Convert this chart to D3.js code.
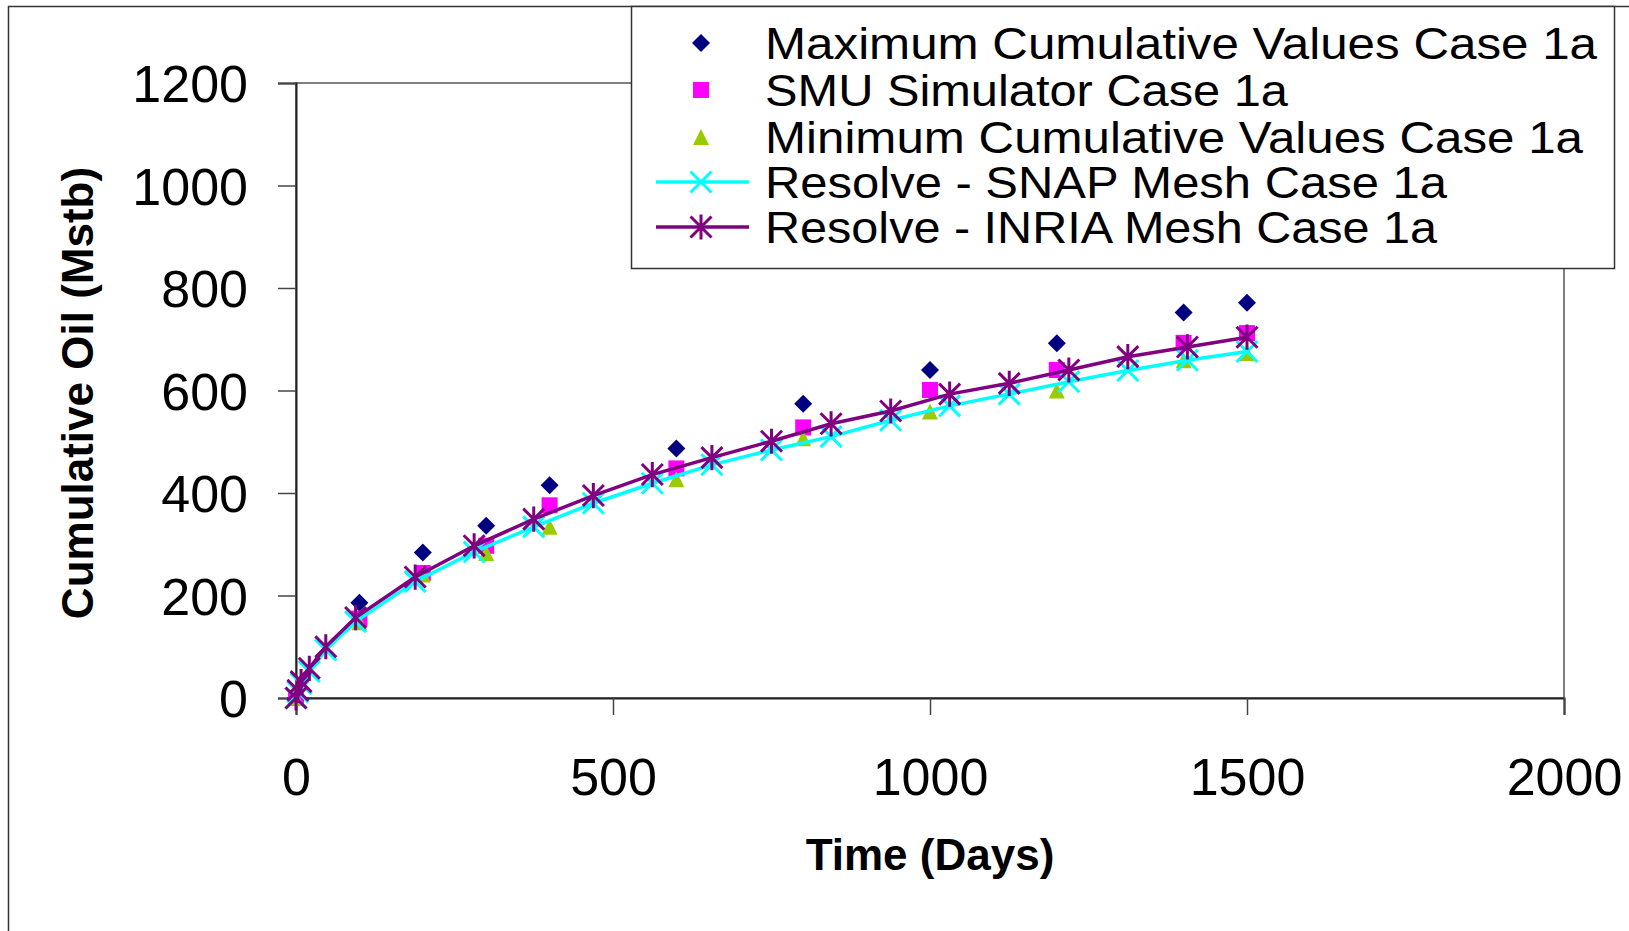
<!DOCTYPE html>
<html>
<head>
<meta charset="utf-8">
<script src="https://cdn.jsdelivr.net/npm/d3@7"></script>
<style>
  body { margin: 0; background: #fff; }
  text { font-family: "Liberation Sans", Arial, sans-serif; }
</style>
</head>
<body>
<div id="chart"></div>
<script>
// cumulative oil vs time

var w = 1629;
var h = 931;

var sampleDays = [0, 100, 200, 300, 400, 600, 800, 1000, 1200, 1400, 1500];
var maxValues = [0, 186, 284, 336, 415, 487, 574, 640, 692, 752, 771];
var smuValues = [0, 155, 244, 297, 376, 448, 528, 601, 640, 693, 712];
var minValues = [0, 148, 241, 283, 334, 427, 507, 559, 600, 659, 673];

var resolveDays = [0, 3, 8, 21, 47, 94, 188, 281, 375, 469, 562, 656, 750, 844, 938, 1031, 1125, 1219, 1312, 1406, 1500];
var snapValues = [0, 12, 28, 52, 94, 149, 227, 285, 334, 380, 419, 455, 484, 510, 542, 570, 593, 617, 639, 659, 676];
var inriaValues = [0, 15, 32, 58, 100, 157, 236, 297, 349, 395, 436, 469, 501, 535, 560, 593, 614, 640, 666, 685, 704];

var xTicks = [0, 500, 1000, 1500, 2000];
var yTicks = [0, 200, 400, 600, 800, 1000, 1200];

var seriesNames = [
  "Maximum Cumulative Values Case 1a",
  "SMU Simulator Case 1a",
  "Minimum Cumulative Values Case 1a",
  "Resolve - SNAP Mesh Case 1a",
  "Resolve - INRIA Mesh Case 1a"
];

var plot = {left: 296, right: 1564, top: 83, bottom: 698};

var svg = d3.select("div#chart").append("svg")
  .attr("width", w)
  .attr("height", h);

// outer chart border (runs off the right and bottom)
svg.append("rect")
  .attr("x", 8.5).attr("y", 6.5)
  .attr("width", 1700).attr("height", 1000)
  .attr("fill", "none")
  .attr("stroke", "#333")
  .attr("stroke-width", 1.5);

var x = d3.scaleLinear().domain([0, 2000]).range([plot.left, plot.right]);
var y = d3.scaleLinear().domain([0, 1200]).range([plot.bottom, plot.top]);

// plot area frame
svg.append("rect")
  .attr("x", plot.left).attr("y", plot.top)
  .attr("width", plot.right - plot.left)
  .attr("height", plot.bottom - plot.top)
  .attr("fill", "none")
  .attr("stroke", "#808080")
  .attr("stroke-width", 2);

var yAxis = svg.append("g")
  .attr("transform", "translate(" + plot.left + ",0)")
  .call(d3.axisLeft(y).tickValues(yTicks).tickSize(18).tickPadding(30).tickFormat(d3.format("d")));

var xAxis = svg.append("g")
  .attr("transform", "translate(0," + plot.bottom + ")")
  .call(d3.axisBottom(x).tickValues(xTicks).tickSize(17).tickPadding(43).tickFormat(d3.format("d")));

[yAxis, xAxis].forEach(function(ax) {
  ax.select(".domain").attr("stroke", "#222").attr("stroke-width", 2);
  ax.selectAll(".tick line").attr("stroke", "#444").attr("stroke-width", 1.5);
  ax.selectAll(".tick text")
    .attr("fill", "#000")
    .style("font-size", "52px")
    .style("font-family", "'Liberation Sans', Arial, sans-serif");
});
yAxis.selectAll(".tick text").attr("dy", "0.36em");
xAxis.selectAll(".tick text").attr("dy", "0.72em");

// axis titles
svg.append("text")
  .text("Time (Days)")
  .attr("x", 930).attr("y", 870)
  .attr("text-anchor", "middle")
  .style("font-size", "44px")
  .style("font-weight", "bold");

svg.append("text")
  .text("Cumulative Oil (Mstb)")
  .attr("transform", "translate(93,393) rotate(-90)")
  .attr("text-anchor", "middle")
  .style("font-size", "44px")
  .style("font-weight", "bold");

// marker shapes
function diamond(g, s, color) {
  g.append("path").attr("d", "M0," + (-s) + "L" + s + ",0L0," + s + "L" + (-s) + ",0Z").attr("fill", color);
}
function square(g, s, color) {
  g.append("rect").attr("x", -s).attr("y", -s).attr("width", 2 * s).attr("height", 2 * s).attr("fill", color);
}
function triangle(g, s, color) {
  g.append("path").attr("d", "M0," + (-s) + "L" + s + "," + s + "L" + (-s) + "," + s + "Z").attr("fill", color);
}
function cross(g, s, color) {
  g.append("path").attr("d", "M" + (-s) + "," + (-s) + "L" + s + "," + s + "M" + (-s) + "," + s + "L" + s + "," + (-s))
    .attr("stroke", color).attr("stroke-width", 3).attr("fill", "none");
}
function star(g, s, color) {
  g.append("path").attr("d", "M" + (-s) + "," + (-s) + "L" + s + "," + s + "M" + (-s) + "," + s + "L" + s + "," + (-s) + "M0," + (-s * 1.2) + "L0," + (s * 1.2))
    .attr("stroke", color).attr("stroke-width", 3).attr("fill", "none");
}

var series = [
  {days: sampleDays, values: maxValues, color: "#000080", marker: diamond, size: 9, line: false},
  {days: sampleDays, values: smuValues, color: "#FF00FF", marker: square, size: 8, line: false},
  {days: sampleDays, values: minValues, color: "#99CC00", marker: triangle, size: 8, line: false},
  {days: resolveDays, values: snapValues, color: "#00FFFF", marker: cross, size: 10.5, line: true},
  {days: resolveDays, values: inriaValues, color: "#800080", marker: star, size: 10.5, line: true}
];

var lineGen = d3.line()
  .x(function(d) { return x(d[0]); })
  .y(function(d) { return y(d[1]); });

series.forEach(function(s) {
  var pts = d3.zip(s.days, s.values);
  if (s.line) {
    svg.append("path")
      .datum(pts)
      .attr("d", lineGen)
      .attr("fill", "none")
      .attr("stroke", s.color)
      .attr("stroke-width", 3.5);
  }
  svg.selectAll(null)
    .data(pts)
    .enter()
    .append("g")
    .attr("transform", function(d) { return "translate(" + x(d[0]) + "," + y(d[1]) + ")"; })
    .each(function() { s.marker(d3.select(this), s.size, s.color); });
});

// legend
var legend = svg.append("g");
legend.append("rect")
  .attr("x", 631.5).attr("y", 6.5)
  .attr("width", 983).attr("height", 262)
  .attr("fill", "#fff")
  .attr("stroke", "#333")
  .attr("stroke-width", 1.5);

var legendRows = [43, 90, 137, 182, 227];
var legendWidths = [832, 523, 818, 682, 672];
series.forEach(function(s, i) {
  var row = legend.append("g").attr("transform", "translate(701," + legendRows[i] + ")");
  if (s.line) {
    row.append("line").attr("x1", -45).attr("x2", 48).attr("stroke", s.color).attr("stroke-width", 3.5);
  }
  s.marker(row, s.size, s.color);
  row.append("text")
    .text(seriesNames[i])
    .attr("x", 64)
    .attr("dy", "0.36em")
    .attr("textLength", legendWidths[i])
    .attr("lengthAdjust", "spacingAndGlyphs")
    .style("font-size", "45px");
});
</script>
</body>
</html>
